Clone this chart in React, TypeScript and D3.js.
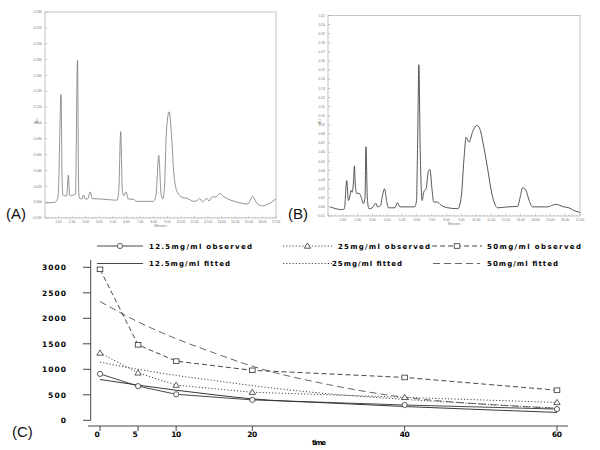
import { useEffect, useRef } from "react";
import * as d3 from "d3";

// (A) chromatogram
const timeA = [0.05, 0.74, 0.92, 0.98, 1.18, 1.26, 1.31, 1.43, 1.59, 1.72, 1.81, 1.92, 2.09, 2.24, 2.39, 2.48, 2.54, 2.71, 2.83, 2.96, 3.14, 3.33, 3.47, 4.06, 4.80, 5.30, 5.43, 5.57, 5.69, 5.80, 5.96, 6.13, 6.53, 6.73, 7.39, 7.98, 8.17, 8.37, 8.54, 8.67, 8.80, 8.94, 9.14, 9.31, 9.48, 9.73, 10.10, 10.47, 10.96, 11.23, 11.38, 11.58, 11.90, 12.07, 12.32, 12.56, 12.86, 13.18, 13.67, 14.41, 14.91, 15.11, 15.28, 15.45, 15.60, 16.02, 16.41, 17.0];
const auA = [-0.001, 0, 0.004, 0.011, 0.136, 0.028, 0.009, 0.008, 0.008, 0.034, 0.009, 0.008, 0.009, 0.010, 0.179, 0.015, 0.005, 0.004, 0.009, 0.004, 0.004, 0.013, 0.0045, 0.004, 0.003, 0.0025, 0.015, 0.089, 0.015, 0.008, 0.013, 0.004, 0.0035, 0.001, 0.001, 0.001, 0.009, 0.059, 0.011, 0.004, 0.021, 0.091, 0.114, 0.085, 0.036, 0.013, 0.006, 0.0047, 0.001, 0.0025, 0.0047, 0.0004, 0.0047, 0.0016, 0.0067, 0.0063, 0.011, 0.0067, 0.0025, -0.001, -0.0025, 0.0025, 0.0076, 0.0025, -0.0016, -0.0047, -0.0025, 0.004];
const ticksYA = [-0.02, 0, 0.02, 0.04, 0.06, 0.08, 0.10, 0.12, 0.14, 0.16, 0.18, 0.20, 0.22, 0.24];

// (B) chromatogram
const timeB = [0.15, 0.93, 1.11, 1.26, 1.38, 1.49, 1.55, 1.62, 1.72, 1.78, 1.85, 1.94, 2.09, 2.23, 2.39, 2.50, 2.56, 2.66, 2.77, 2.99, 3.21, 3.35, 3.55, 3.68, 3.82, 3.95, 4.07, 4.51, 4.69, 4.85, 5.85, 5.97, 6.04, 6.13, 6.22, 6.35, 6.46, 6.62, 6.77, 6.88, 7.0, 7.13, 7.36, 7.64, 8.09, 8.76, 8.99, 9.17, 9.32, 9.51, 9.77, 10.04, 10.21, 10.51, 10.78, 11.05, 11.45, 12.12, 12.79, 12.97, 13.12, 13.35, 13.57, 13.8, 14.8, 15.36, 15.92, 16.25, 16.59, 16.99];
const auB = [0.0, -0.003, -0.002, 0.029, 0.007, 0.0128, 0.018, 0.016, 0.0276, 0.045, 0.022, 0.0147, 0.015, 0.011, 0.0036, 0.011, 0.066, 0.007, -0.002, -0.001, 0.004, 0.0, 0.0017, 0.0128, 0.0198, 0.007, -0.001, -0.001, 0.0047, 0.0, 0.0, 0.007, 0.063, 0.156, 0.063, 0.007, 0.0164, 0.020, 0.0387, 0.041, 0.022, 0.0053, 0.0053, 0.0017, -0.001, -0.002, 0.011, 0.052, 0.0764, 0.071, 0.083, 0.0894, 0.0869, 0.066, 0.0406, 0.0147, -0.001, 0.0, 0.0006, 0.011, 0.0209, 0.0183, 0.007, 0.0, 0.0, 0.0028, 0.0, -0.001, -0.004, -0.006];
const ticksYB = [-0.01, 0, 0.01, 0.02, 0.03, 0.04, 0.05, 0.06, 0.07, 0.08, 0.09, 0.10, 0.11, 0.12, 0.13, 0.14, 0.15, 0.16, 0.17, 0.18, 0.19, 0.20, 0.21];

const minuteTicks = [1, 2, 3, 4, 5, 6, 7, 8, 9, 10, 11, 12, 13, 14, 15, 16, 17];

// (C) concentration vs time
const sampleTimes = [0, 5, 10, 20, 40, 60];
const obs125 = [910, 670, 510, 400, 300, 220];
const obs25 = [1320, 930, 690, 550, 450, 350];
const obs50 = [2960, 1480, 1160, 980, 840, 590];
const fitTimes = [0, 5, 10, 15, 20, 30, 40, 50, 60];
const fit125 = [800, 690, 590, 500, 420, 340, 270, 210, 155];
const fit25 = [1140, 1000, 880, 780, 680, 520, 410, 320, 240];
const fit50 = [2330, 1930, 1600, 1320, 1060, 700, 450, 320, 235];
const concTicks = [0, 500, 1000, 1500, 2000, 2500, 3000];
const timeTicks = [0, 5, 10, 20, 40, 60];
const legendLabels = ["12.5mg/ml observed", "25mg/ml observed", "50mg/ml observed", "12.5mg/ml fitted", "25mg/ml fitted", "50mg/ml fitted"];

const FONT = "'Liberation Sans', Arial, sans-serif";
const BOLD = "'DejaVu Sans', 'Liberation Sans', sans-serif";

function drawChrom(svg, o) {
  const x = d3.scaleLinear().domain([0, 17]).range([o.left, o.right]);
  const y = d3.scaleLinear().domain(o.yDomain).range([o.bottom, o.top]);
  const g = svg.append("g");

  g.append("rect").attr("x", o.left).attr("y", o.top)
    .attr("width", o.right - o.left).attr("height", o.bottom - o.top)
    .attr("fill", "none").attr("stroke", "#aaa").attr("stroke-width", 0.7);

  // minor ticks
  const minorX = d3.range(0, 17.01, 0.25);
  g.selectAll(".mx").data(minorX).enter().append("line")
    .attr("x1", d => x(d)).attr("x2", d => x(d))
    .attr("y1", o.bottom).attr("y2", d => o.bottom - (Number.isInteger(d) ? 2.5 : 1.2))
    .attr("stroke", "#999").attr("stroke-width", 0.5);
  g.selectAll(".my").data(o.yTicks).enter().append("line")
    .attr("x1", o.left).attr("x2", o.left + 2.5)
    .attr("y1", d => y(d)).attr("y2", d => y(d))
    .attr("stroke", "#999").attr("stroke-width", 0.5);

  g.selectAll(".yl").data(o.yTicks).enter().append("text")
    .attr("x", o.left - 3).attr("y", d => y(d) + 1.2)
    .attr("text-anchor", "end").style("font-size", "3.4px").style("font-family", FONT)
    .attr("fill", "#777").text(d => d3.format(o.fmt)(d));
  g.selectAll(".xl").data(minuteTicks).enter().append("text")
    .attr("x", d => x(d)).attr("y", o.bottom + 4.5)
    .attr("text-anchor", "middle").style("font-size", "3.4px").style("font-family", FONT)
    .attr("fill", "#777").text(d => d3.format(".2f")(d));

  g.append("text").attr("x", (o.left + o.right) / 2).attr("y", o.bottom + 9)
    .attr("text-anchor", "middle").style("font-size", "3.6px").style("font-family", FONT)
    .attr("fill", "#777").text("Minutes");
  g.append("text").attr("transform", `translate(${o.left - 7},${(o.top + o.bottom) / 2 + 6}) rotate(-90)`)
    .attr("text-anchor", "middle").style("font-size", "3.6px").style("font-family", FONT)
    .attr("fill", "#777").text("AU");

  const line = d3.line().x(d => x(d[0])).y(d => y(d[1])).curve(d3.curveMonotoneX);
  g.append("path").datum(o.t.map((t, i) => [t, o.v[i]]))
    .attr("d", line).attr("fill", "none").attr("stroke", o.color).attr("stroke-width", o.width);
}

function marker(g, type, cx, cy) {
  if (type === "circle") {
    g.append("circle").attr("cx", cx).attr("cy", cy).attr("r", 2.6)
      .attr("fill", "white").attr("stroke", "#333").attr("stroke-width", 0.8);
  } else if (type === "triangle") {
    g.append("path").attr("d", `M${cx},${cy - 3}L${cx + 3.2},${cy + 2.2}L${cx - 3.2},${cy + 2.2}Z`)
      .attr("fill", "white").attr("stroke", "#333").attr("stroke-width", 0.8);
  } else {
    g.append("rect").attr("x", cx - 2.8).attr("y", cy - 2.3).attr("width", 5.6).attr("height", 4.6)
      .attr("fill", "white").attr("stroke", "#333").attr("stroke-width", 0.8);
  }
}

export default function App() {
  const svgRef = useRef(null);

  useEffect(() => {
    const svg = d3.select(svgRef.current);
    svg.selectAll("*").remove();
    svg.append("rect").attr("width", 600).attr("height", 450).attr("fill", "white");

    drawChrom(svg, { left: 45, right: 276, top: 12, bottom: 218, yDomain: [-0.02, 0.24], yTicks: ticksYA, fmt: ".3f", t: timeA, v: auA, color: "#777", width: 0.8 });
    drawChrom(svg, { left: 328, right: 580, top: 15.5, bottom: 216, yDomain: [-0.01, 0.21], yTicks: ticksYB, fmt: ".2f", t: timeB, v: auB, color: "#444", width: 0.9 });

    svg.append("text").attr("x", 6).attr("y", 219).style("font-size", "15px").style("font-family", FONT).attr("fill", "#111").text("(A)");
    svg.append("text").attr("x", 288).attr("y", 219).style("font-size", "15px").style("font-family", FONT).attr("fill", "#111").text("(B)");
    svg.append("text").attr("x", 12).attr("y", 437).style("font-size", "15px").style("font-family", FONT).attr("fill", "#111").text("(C)");

    // (C)
    const x = d3.scaleLinear().domain([0, 60]).range([100, 557]);
    const y = d3.scaleLinear().domain([0, 3000]).range([420.3, 267.3]);
    const g = svg.append("g");
    const axisColor = "#333";

    g.append("line").attr("x1", 90.7).attr("x2", 90.7).attr("y1", 260).attr("y2", y(0)).attr("stroke", axisColor).attr("stroke-width", 0.9);
    g.selectAll(".yt").data(concTicks).enter().append("line")
      .attr("x1", 83).attr("x2", 90.7).attr("y1", d => y(d)).attr("y2", d => y(d))
      .attr("stroke", axisColor).attr("stroke-width", 0.9);
    g.selectAll(".ytl").data(concTicks).enter().append("text")
      .attr("x", 66).attr("y", d => y(d) + 3).attr("text-anchor", "end")
      .attr("textLength", d => String(d).length * 6).attr("lengthAdjust", "spacing")
      .style("font-size", "7.5px").style("font-weight", "bold").style("font-family", BOLD)
      .attr("fill", "#000").text(d => d);

    g.append("line").attr("x1", 88).attr("x2", 568).attr("y1", 426).attr("y2", 426).attr("stroke", axisColor).attr("stroke-width", 0.9);
    g.selectAll(".xt").data(timeTicks).enter().append("line")
      .attr("x1", d => x(d)).attr("x2", d => x(d)).attr("y1", 426).attr("y2", 431)
      .attr("stroke", axisColor).attr("stroke-width", 0.9);
    g.selectAll(".xtl").data(timeTicks).enter().append("text")
      .attr("x", d => x(d) - (d < 10 ? 3 : 0)).attr("y", 437).attr("text-anchor", "middle")
      .attr("textLength", d => String(d).length * 5).attr("lengthAdjust", "spacing")
      .style("font-size", "7.5px").style("font-weight", "bold").style("font-family", BOLD)
      .attr("fill", "#000").text(d => d);
    g.append("text").attr("x", 319).attr("y", 445).attr("text-anchor", "middle")
      .attr("textLength", 14).attr("lengthAdjust", "spacing")
      .style("font-size", "7px").style("font-weight", "bold").style("font-family", BOLD)
      .attr("fill", "#000").text("time");

    const series = [
      { t: fitTimes, v: fit125, dash: null, color: "#222", curve: true },
      { t: fitTimes, v: fit25, dash: "1.2,2", color: "#333", curve: true },
      { t: fitTimes, v: fit50, dash: "7,4", color: "#555", curve: true },
      { t: sampleTimes, v: obs125, dash: null, color: "#333", curve: false, m: "circle" },
      { t: sampleTimes, v: obs25, dash: "1.2,2", color: "#333", curve: false, m: "triangle" },
      { t: sampleTimes, v: obs50, dash: "5,3", color: "#333", curve: false, m: "square" },
    ];
    series.forEach(s => {
      const line = d3.line().x(d => x(d[0])).y(d => y(d[1]))
        .curve(s.curve ? d3.curveMonotoneX : d3.curveLinear);
      g.append("path").datum(s.t.map((t, i) => [t, s.v[i]])).attr("d", line)
        .attr("fill", "none").attr("stroke", s.color).attr("stroke-width", 0.9)
        .attr("stroke-dasharray", s.dash);
    });
    series.filter(s => s.m).forEach(s => {
      s.t.forEach((t, i) => marker(g, s.m, x(t), y(s.v[i])));
    });

    // legend
    const legendItems = [
      { x1: 97, x2: 143, tx: 149, ty: 246, w: 103, dash: null, m: "circle" },
      { x1: 283, x2: 332, tx: 338, ty: 246, w: 92, dash: "1.2,2", m: "triangle" },
      { x1: 432, x2: 482, tx: 487, ty: 246, w: 94, dash: "5,3", m: "square" },
      { x1: 97, x2: 143, tx: 149, ty: 263.5, w: 81, dash: null },
      { x1: 283, x2: 332, tx: 332, ty: 263.5, w: 70, dash: "1.2,2" },
      { x1: 433, x2: 480, tx: 487, ty: 263.5, w: 71, dash: "7,4", color: "#555" },
    ];
    legendItems.forEach((it, i) => {
      g.append("line").attr("x1", it.x1).attr("x2", it.x2).attr("y1", it.ty).attr("y2", it.ty)
        .attr("stroke", it.color || "#333").attr("stroke-width", 0.9).attr("stroke-dasharray", it.dash);
      if (it.m) marker(g, it.m, (it.x1 + it.x2) / 2, it.ty);
      g.append("text").attr("x", it.tx).attr("y", it.ty + 2.7)
        .attr("textLength", it.w).attr("lengthAdjust", "spacing")
        .style("font-size", "7px").style("font-weight", "bold").style("font-family", BOLD)
        .attr("fill", "#000").text(legendLabels[i]);
    });
  }, []);

  return <svg ref={svgRef} width={600} height={450} style={{ position: "absolute", left: 0, top: 0 }} />;
}
